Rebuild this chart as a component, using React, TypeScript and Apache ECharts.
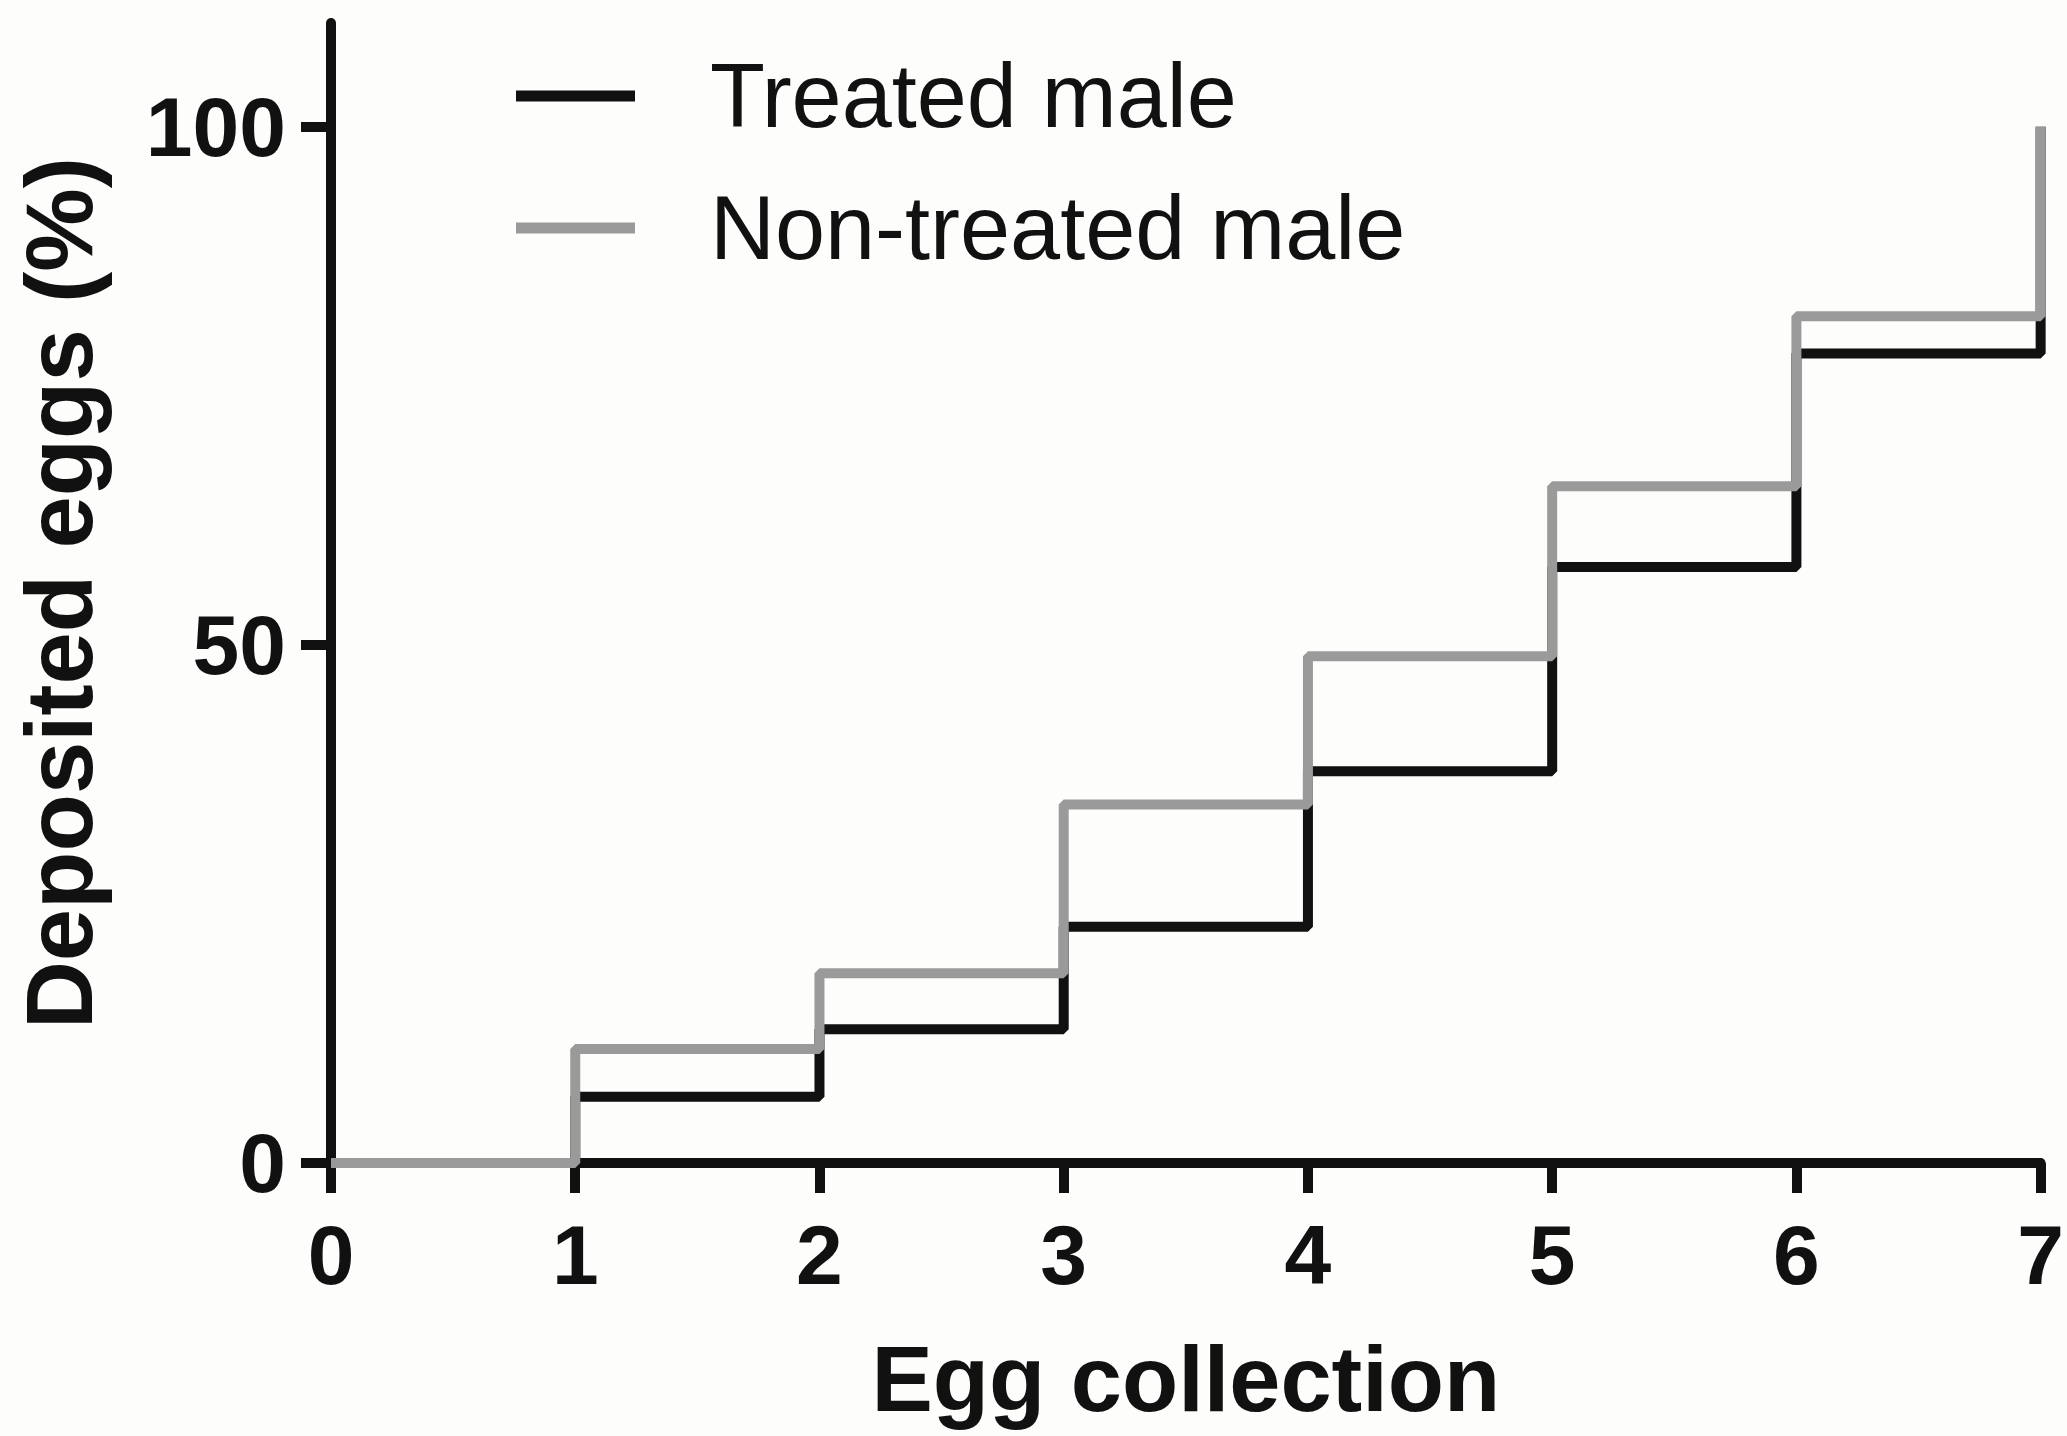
import React, { useEffect, useRef } from "react";
import * as echarts from "echarts";

// Cumulative share of deposited eggs at each egg collection
const collections = [0, 1, 2, 3, 4, 5, 6, 7];
const treatedMale = [0, 6.4, 12.9, 22.8, 37.8, 57.5, 78.1, 100];
const nonTreatedMale = [0, 11.0, 18.3, 34.6, 48.9, 65.3, 81.7, 100];
const seriesNames = ["Treated male", "Non-treated male"];
const yTickValues = [0, 50, 100];

const FONT = "'Liberation Sans', Arial, Helvetica, sans-serif";
const INK = "#111111";
const GREY = "#9a9a9a";
const STROKE = 10;

export default function App() {
  const ref = useRef<HTMLDivElement>(null);

  useEffect(() => {
    if (!ref.current) return;
    const chart = echarts.init(ref.current, undefined, { renderer: "svg" });

    const axisLine = { show: true, lineStyle: { color: INK, width: STROKE } };
    const axisTick = { show: true, length: 30, lineStyle: { color: INK, width: STROKE } };
    const labelStyle = { color: INK, fontSize: 84, fontWeight: "bold" as const, fontFamily: FONT };

    chart.setOption({
      animation: false,
      backgroundColor: "#fdfdfb",
      textStyle: { fontFamily: FONT },
      grid: { left: 331, right: 25, top: 23, bottom: 273, containLabel: false },
      legend: {
        orient: "vertical",
        left: 511,
        top: 46,
        itemWidth: 119,
        itemHeight: 11,
        itemGap: 42,
        icon: "rect",
        data: seriesNames,
        textStyle: { fontSize: 90, color: INK, fontFamily: FONT, lineHeight: 90, padding: [0, 0, 0, 70] },
      },
      xAxis: {
        type: "value",
        min: 0,
        max: 7,
        interval: 1,
        axisLine,
        axisTick,
        splitLine: { show: false },
        axisLabel: { ...labelStyle, margin: 50 },
        name: "Egg collection",
        nameLocation: "middle",
        nameGap: 170,
        nameTextStyle: { color: INK, fontSize: 92, fontWeight: "bold", fontFamily: FONT },
      },
      yAxis: {
        type: "value",
        min: 0,
        max: 110,
        axisLine,
        axisTick: { ...axisTick, customValues: yTickValues },
        splitLine: { show: false },
        axisLabel: { ...labelStyle, margin: 45, customValues: yTickValues },
        name: "Deposited eggs (%)",
        nameLocation: "middle",
        nameGap: 225,
        nameTextStyle: { color: INK, fontSize: 94, fontWeight: "bold", fontFamily: FONT },
      },
      series: [
        {
          name: seriesNames[0],
          type: "line",
          step: "end",
          symbol: "none",
          color: INK,
          lineStyle: { color: INK, width: STROKE },
          data: collections.map((c, i) => [c, treatedMale[i]]),
          z: 3,
        },
        {
          name: seriesNames[1],
          type: "line",
          step: "end",
          symbol: "none",
          color: GREY,
          lineStyle: { color: GREY, width: STROKE },
          data: collections.map((c, i) => [c, nonTreatedMale[i]]),
          z: 4,
        },
      ],
    });

    return () => chart.dispose();
  }, []);

  return (
    <div
      ref={ref}
      style={{ position: "fixed", left: 0, top: 0, width: 2067, height: 1436 }}
    />
  );
}
